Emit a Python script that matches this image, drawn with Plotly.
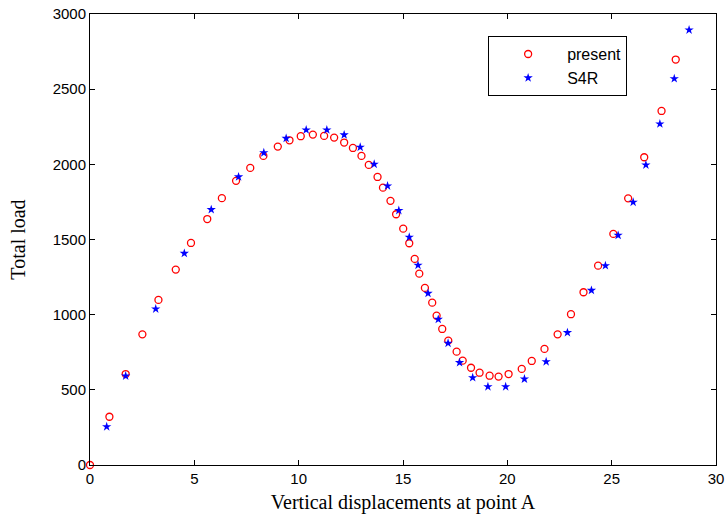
import plotly.graph_objects as go

present_x = [0, 0.93, 1.71, 2.51, 3.28, 4.11, 4.84, 5.62, 6.32, 7.0, 7.68, 8.31, 9.0, 9.56, 10.1,
             10.68, 11.22, 11.7, 12.18, 12.6, 13.01, 13.36, 13.78, 14.04, 14.4, 14.67, 15.01,
             15.30, 15.56, 15.78, 16.05, 16.4, 16.61, 16.88, 17.17, 17.57, 17.86, 18.26, 18.67,
             19.15, 19.58, 20.06, 20.69, 21.17, 21.78, 22.41, 23.05, 23.65, 24.35, 25.08, 25.79,
             26.56, 27.39, 28.07]
present_y = [0, 321, 605, 869, 1098, 1300, 1477, 1636, 1775, 1890, 1976, 2056, 2118, 2160, 2187,
             2198, 2189, 2178, 2145, 2109, 2056, 1996, 1916, 1845, 1757, 1668, 1572,
             1475, 1371, 1273, 1178, 1080, 993, 905, 827, 754, 694, 647, 614,
             594, 588, 605, 639, 692, 772, 869, 1003, 1149, 1326, 1537, 1774,
             2047, 2355, 2697]

s4r_x = [0.80, 1.71, 3.15, 4.52, 5.81, 7.12, 8.33, 9.4, 10.36, 11.35, 12.18, 12.95, 13.62, 14.26,
         14.8, 15.30, 15.72, 16.2, 16.69, 17.16, 17.71, 18.34, 19.07, 19.92, 20.82, 21.86, 22.88,
         24.03, 24.7, 25.31, 26.03, 26.64, 27.31, 28.0, 28.71]
s4r_y = [255, 592, 1038, 1408, 1699, 1917, 2077, 2173, 2229, 2229, 2196, 2114, 2001, 1856,
         1693, 1515, 1329, 1142, 969, 810, 681, 581, 521, 521, 572, 687, 881,
         1162, 1326, 1528, 1748, 1996, 2269, 2570, 2894]

x_ticks = [0, 5, 10, 15, 20, 25, 30]
y_ticks = [0, 500, 1000, 1500, 2000, 2500, 3000]

fig = go.Figure()
fig.add_trace(go.Scatter(
    x=present_x, y=present_y, mode="markers", name="present",
    marker=dict(symbol="circle-open", size=7, color="#ff0000", line=dict(width=1.3, color="#ff0000")),
    cliponaxis=False,
))
fig.add_trace(go.Scatter(
    x=s4r_x, y=s4r_y, mode="markers", name="S4R",
    marker=dict(symbol="star", size=7, color="#0000ff", line=dict(width=0)),
    cliponaxis=False,
))

axis_common = dict(
    showline=True, linecolor="black", linewidth=1, mirror="ticks",
    ticks="inside", ticklen=5, tickcolor="black", tickwidth=1,
    showgrid=False, zeroline=False, automargin=False,
    ticklabeloverflow="allow",
    tickfont=dict(family="Liberation Sans, Arial", size=15, color="black"),
)

fig.update_layout(
    width=727, height=519,
    margin=dict(l=90, r=11, t=14, b=54),
    paper_bgcolor="white", plot_bgcolor="white",
    xaxis=dict(range=[0, 30], tickvals=x_ticks, ticktext=[str(v) for v in x_ticks],
               title=dict(text="Vertical displacements at point A", standoff=8,
                          font=dict(family="Liberation Serif, Times New Roman", size=20, color="black")),
               **axis_common),
    yaxis=dict(range=[0, 3000], tickvals=y_ticks, ticktext=[str(v) for v in y_ticks],
               title=dict(text="Total load", standoff=21,
                          font=dict(family="Liberation Serif, Times New Roman", size=20, color="black")),
               **axis_common),
    legend=dict(x=0.636, y=0.951, xanchor="left", yanchor="top",
                bordercolor="black", borderwidth=1, bgcolor="white",
                font=dict(family="Liberation Sans, Arial", size=16, color="black"),
                itemwidth=68),
    showlegend=True,
)

fig.write_html("out.html", config={"displayModeBar": False},
               post_script="document.body.style.margin='0px';")
